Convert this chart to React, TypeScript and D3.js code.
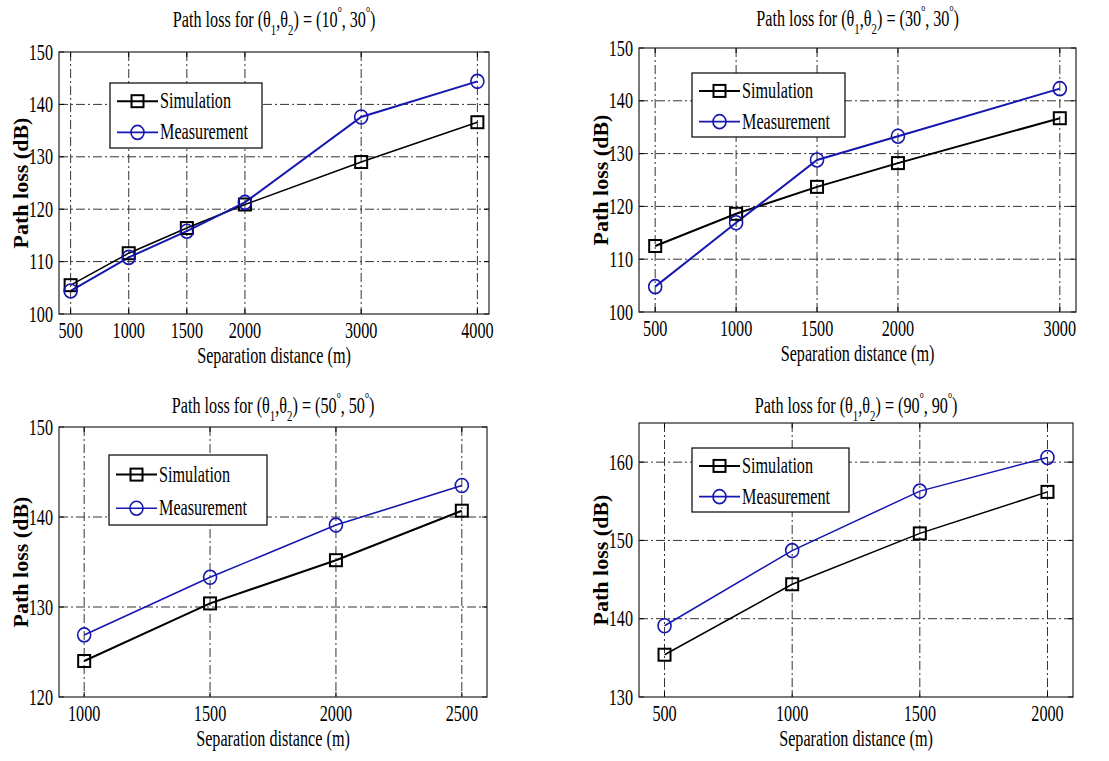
import React from "react";
import * as d3 from "d3";

// Path loss versus separation distance for four antenna angle pairs.
const distA = [500, 1000, 1500, 2000, 3000, 4000];
const simA = [105.5, 111.6, 116.4, 120.9, 129.0, 136.6];
const measA = [104.4, 110.8, 115.8, 121.3, 137.6, 144.4];

const distB = [500, 1000, 1500, 2000, 3000];
const simB = [112.5, 118.6, 123.7, 128.2, 136.7];
const measB = [104.8, 116.9, 128.8, 133.3, 142.3];

const distC = [1000, 1500, 2000, 2500];
const simC = [124.0, 130.4, 135.2, 140.7];
const measC = [126.9, 133.3, 139.1, 143.5];

const distD = [500, 1000, 1500, 2000];
const simD = [135.4, 144.4, 150.9, 156.2];
const measD = [139.1, 148.7, 156.3, 160.6];

const ticksXA = [500, 1000, 1500, 2000, 3000, 4000];
const ticksXB = [500, 1000, 1500, 2000, 3000];
const ticksXC = [1000, 1500, 2000, 2500];
const ticksXD = [500, 1000, 1500, 2000];

const ticksYA = [100, 110, 120, 130, 140, 150];
const ticksYB = [100, 110, 120, 130, 140, 150];
const ticksYC = [120, 130, 140, 150];
const ticksYD = [130, 140, 150, 160];

const anglesA = ["10", "30"];
const anglesB = ["30", "30"];
const anglesC = ["50", "50"];
const anglesD = ["90", "90"];

const seriesNames = ["Simulation", "Measurement"];
const SIM_COLOR = "#000000";
const MEAS_COLOR = "#1616b0";
const FONT = "Liberation Serif, Times New Roman, Tinos, DejaVu Serif, serif";
const GRID_DASH = "9,3,2,3";
const FS = 22.5; // text size
const SX = 0.72; // horizontal condensing of the serif text

type PanelSpec = {
  box: { left: number; top: number; right: number; bottom: number };
  xDomain: [number, number];
  yDomain: [number, number];
  xTicks: number[];
  yTicks: number[];
  dist: number[];
  sim: number[];
  meas: number[];
  angles: string[];
  titleY: number;
  legend: { x: number; y: number; w: number; h: number };
  simWidth: number;
  measWidth: number;
};

const panels: PanelSpec[] = [
  {
    box: { left: 59, top: 52, right: 489, bottom: 314 },
    xDomain: [400, 4100],
    yDomain: [100, 150],
    xTicks: ticksXA,
    yTicks: ticksYA,
    dist: distA,
    sim: simA,
    meas: measA,
    angles: anglesA,
    titleY: 27,
    legend: { x: 110, y: 83, w: 152, h: 65 },
    simWidth: 1.5,
    measWidth: 2,
  },
  {
    box: { left: 639, top: 48, right: 1076, bottom: 312 },
    xDomain: [400, 3100],
    yDomain: [100, 150],
    xTicks: ticksXB,
    yTicks: ticksYB,
    dist: distB,
    sim: simB,
    meas: measB,
    angles: anglesB,
    titleY: 26,
    legend: { x: 692, y: 73, w: 153, h: 64 },
    simWidth: 2,
    measWidth: 2,
  },
  {
    box: { left: 59, top: 427, right: 487, bottom: 697 },
    xDomain: [900, 2600],
    yDomain: [120, 150],
    xTicks: ticksXC,
    yTicks: ticksYC,
    dist: distC,
    sim: simC,
    meas: measC,
    angles: anglesC,
    titleY: 413,
    legend: { x: 109, y: 455, w: 158, h: 70 },
    simWidth: 2,
    measWidth: 1.6,
  },
  {
    box: { left: 639, top: 423, right: 1073, bottom: 697 },
    xDomain: [400, 2100],
    yDomain: [130, 165],
    xTicks: ticksXD,
    yTicks: ticksYD,
    dist: distD,
    sim: simD,
    meas: measD,
    angles: anglesD,
    titleY: 413,
    legend: { x: 692, y: 448, w: 157, h: 64 },
    simWidth: 1.5,
    measWidth: 1.5,
  },
];

function Label({
  x,
  y,
  anchor = "start",
  children,
}: {
  x: number;
  y: number;
  anchor?: "start" | "middle" | "end";
  children: React.ReactNode;
}) {
  return (
    <text
      transform={`translate(${x},${y}) scale(${SX},1)`}
      textAnchor={anchor}
      style={{ fontFamily: FONT, fontSize: FS }}
      fill="#000"
    >
      {children}
    </text>
  );
}

function SquareMarker({ x, y, color }: { x: number; y: number; color: string }) {
  const s = 12;
  return (
    <rect x={x - s / 2} y={y - s / 2} width={s} height={s} fill="none" stroke={color} strokeWidth={2} />
  );
}

function CircleMarker({ x, y, color }: { x: number; y: number; color: string }) {
  return <ellipse cx={x} cy={y} rx={6.5} ry={7} fill="none" stroke={color} strokeWidth={1.6} />;
}

function Title({ cx, y, angles }: { cx: number; y: number; angles: string[] }) {
  return (
    <Label x={cx} y={y} anchor="middle">
      <tspan>Path loss for (θ</tspan>
      <tspan fontSize={15} dy={8}>1</tspan>
      <tspan dy={-8}>,θ</tspan>
      <tspan fontSize={15} dy={8}>2</tspan>
      <tspan dy={-8}>{") = (" + angles[0]}</tspan>
      <tspan fontSize={11} dy={-15}>o</tspan>
      <tspan dy={15}>{", " + angles[1]}</tspan>
      <tspan fontSize={11} dy={-15}>o</tspan>
      <tspan dy={15}>)</tspan>
    </Label>
  );
}

function Panel({ p }: { p: PanelSpec }) {
  const { box } = p;
  const x = d3.scaleLinear().domain(p.xDomain).range([box.left, box.right]);
  const y = d3.scaleLinear().domain(p.yDomain).range([box.bottom, box.top]);
  const line = d3
    .line<[number, number]>()
    .x((d) => x(d[0]))
    .y((d) => y(d[1]));
  const simPts: [number, number][] = p.dist.map((d, i) => [d, p.sim[i]]);
  const measPts: [number, number][] = p.dist.map((d, i) => [d, p.meas[i]]);
  const cx = (box.left + box.right) / 2;
  const cy = (box.top + box.bottom) / 2;
  const lg = p.legend;
  const row1 = lg.y + lg.h * 0.28;
  const row2 = lg.y + lg.h * 0.76;
  const lx0 = lg.x + 7;
  const lx1 = lg.x + 48;
  const lmid = (lx0 + lx1) / 2;

  return (
    <g>
      <Title cx={cx} y={p.titleY} angles={p.angles} />
      {/* grid */}
      {p.xTicks.map((t) => (
        <line key={"gx" + t} x1={x(t)} x2={x(t)} y1={box.top} y2={box.bottom} stroke="#333" strokeWidth={1} strokeDasharray={GRID_DASH} />
      ))}
      {p.yTicks
        .filter((t) => t !== p.yDomain[0] && t !== p.yDomain[1])
        .map((t) => (
          <line key={"gy" + t} x1={box.left} x2={box.right} y1={y(t)} y2={y(t)} stroke="#333" strokeWidth={1} strokeDasharray={GRID_DASH} />
        ))}
      {/* inward ticks */}
      {p.xTicks.map((t) => (
        <g key={"tx" + t}>
          <line x1={x(t)} x2={x(t)} y1={box.bottom} y2={box.bottom - 5} stroke="#000" />
          <line x1={x(t)} x2={x(t)} y1={box.top} y2={box.top + 5} stroke="#000" />
        </g>
      ))}
      {p.yTicks.map((t) => (
        <g key={"ty" + t}>
          <line x1={box.left} x2={box.left + 5} y1={y(t)} y2={y(t)} stroke="#000" />
          <line x1={box.right} x2={box.right - 5} y1={y(t)} y2={y(t)} stroke="#000" />
        </g>
      ))}
      <rect x={box.left} y={box.top} width={box.right - box.left} height={box.bottom - box.top} fill="none" stroke="#222" strokeWidth={1.2} />
      {/* tick labels */}
      {p.xTicks.map((t) => (
        <Label key={"lx" + t} x={x(t)} y={box.bottom + 24} anchor="middle">
          {t}
        </Label>
      ))}
      {p.yTicks.map((t) => (
        <Label key={"ly" + t} x={box.left - 6} y={y(t) + 7.5} anchor="end">
          {t}
        </Label>
      ))}
      {/* axis labels */}
      <Label x={cx} y={box.bottom + 49} anchor="middle">
        Separation distance (m)
      </Label>
      <text
        transform={`translate(${box.left - 31},${cy}) rotate(-90)`}
        textAnchor="middle"
        style={{ fontFamily: FONT, fontSize: 22, fontWeight: "bold" }}
        fill="#000"
      >
        Path loss (dB)
      </text>
      {/* series */}
      <path d={line(simPts) || ""} fill="none" stroke={SIM_COLOR} strokeWidth={p.simWidth} />
      <path d={line(measPts) || ""} fill="none" stroke={MEAS_COLOR} strokeWidth={p.measWidth} />
      {simPts.map((d, i) => (
        <SquareMarker key={"s" + i} x={x(d[0])} y={y(d[1])} color={SIM_COLOR} />
      ))}
      {measPts.map((d, i) => (
        <CircleMarker key={"m" + i} x={x(d[0])} y={y(d[1])} color={MEAS_COLOR} />
      ))}
      {/* legend */}
      <rect x={lg.x} y={lg.y} width={lg.w} height={lg.h} fill="#fff" stroke="#000" strokeWidth={1.2} />
      <line x1={lx0} x2={lx1} y1={row1} y2={row1} stroke={SIM_COLOR} strokeWidth={2} />
      <SquareMarker x={lmid} y={row1} color={SIM_COLOR} />
      <Label x={lx1 + 2} y={row1 + 7}>
        {seriesNames[0]}
      </Label>
      <line x1={lx0} x2={lx1} y1={row2} y2={row2} stroke={MEAS_COLOR} strokeWidth={1.6} />
      <CircleMarker x={lmid} y={row2} color={MEAS_COLOR} />
      <Label x={lx1 + 2} y={row2 + 7}>
        {seriesNames[1]}
      </Label>
    </g>
  );
}

export default function App() {
  return (
    <svg
      width={1109}
      height={761}
      viewBox="0 0 1109 761"
      style={{ position: "absolute", left: 0, top: 0, background: "#fff" }}
    >
      <rect width={1109} height={761} fill="#fff" />
      {panels.map((p, i) => (
        <Panel key={i} p={p} />
      ))}
    </svg>
  );
}
